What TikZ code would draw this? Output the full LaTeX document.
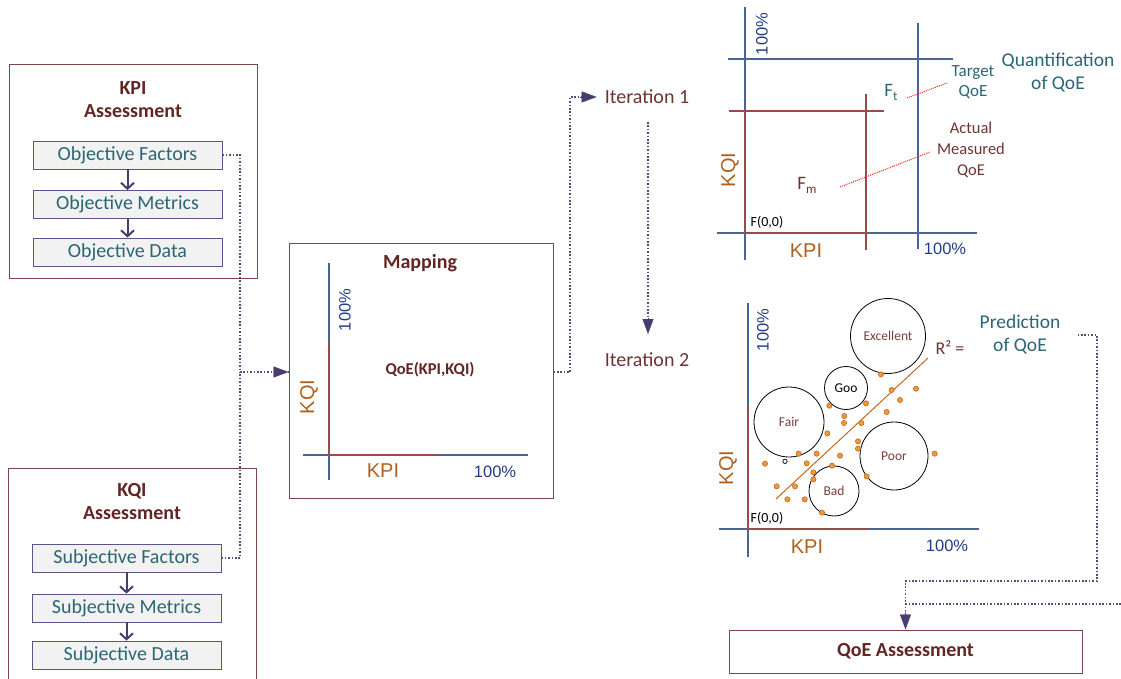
\documentclass[tikz,border=0pt]{standalone}
\usepackage{fontspec}
\setmainfont{Carlito}
\newfontfamily\arialf{Liberation Sans}
\usetikzlibrary{arrows.meta,calc}
\definecolor{boxbrd}{HTML}{7A4848}
\definecolor{titlec}{HTML}{632523}
\definecolor{itc}{HTML}{6E3434}
\definecolor{tealc}{HTML}{2B6675}
\definecolor{inbrd}{HTML}{5E5385}
\definecolor{conn}{HTML}{5B4A80}
\definecolor{arrowc}{HTML}{4A3C6E}
\definecolor{axblue}{HTML}{4A6592}
\definecolor{axred}{HTML}{9A4A48}
\definecolor{bluetxt}{HTML}{203C84}
\definecolor{orangetxt}{HTML}{B0601E}
\definecolor{dotfill}{HTML}{EC9A40}
\definecolor{dotline}{HTML}{C8661A}
\definecolor{grayfill}{HTML}{F2F2F2}
\definecolor{redline}{HTML}{FF2020}
\definecolor{circtxt}{HTML}{7A3E3E}
\begin{document}
\begin{tikzpicture}[x=1pt,y=-1pt,
  outerbox/.style={draw=boxbrd, line width=1pt, inner sep=0pt},
  innerbox/.style={draw=inbrd, fill=grayfill, line width=0.8pt, minimum width=189pt, minimum height=28pt, inner sep=0pt, font=\fontsize{20}{22}\selectfont, text=tealc},
  ttl/.style={font=\fontsize{20}{23}\selectfont\bfseries, text=titlec, align=center},
  flowarr/.style={-{Straight Barb[length=6pt,width=13pt]}, line width=2pt, draw=arrowc},
  dotconn/.style={dash pattern=on 1.6pt off 1.8pt, line width=1.5pt, draw=conn},
  tipped/.style={-{Triangle[length=15pt,width=11pt]}, arrowc},
  axb/.style={draw=axblue, line width=1.2pt},
  axr/.style={draw=axred, line width=1.2pt},
  kpilab/.style={font=\arialf\fontsize{20}{22}\selectfont, text=orangetxt, inner sep=0pt},
  pctlab/.style={font=\arialf\fontsize{16.5}{18}\selectfont, text=bluetxt, inner sep=0pt},
  itlab/.style={font=\fontsize{20}{22}\selectfont, text=itc, inner sep=0pt},
  smalllab/.style={font=\fontsize{14}{16}\selectfont, text=black, inner sep=0pt},
  bubble/.style={circle, draw=black, line width=0.8pt, inner sep=0pt, font=\fontsize{13.5}{15}\selectfont, text=circtxt},
  rdot/.style={densely dotted, line width=1pt, draw=redline},
]
\useasboundingbox (0,0) rectangle (1121,679);

% ---------- KPI assessment ----------
\node[outerbox, minimum width=248pt, minimum height=213pt] (kpibox) at (133,171.5) {};
\node[ttl] (kpititle) at (133,99.5) {KPI\\Assessment};
\node[innerbox] (of) at (127.5,155) {Objective Factors};
\node[innerbox] (om) at (127.5,204.5) {Objective Metrics};
\node[innerbox] (od) at (127.5,252) {Objective Data};
\draw[flowarr] (of.south) -- (om.north);
\draw[flowarr] (om.south) -- (od.north);

% ---------- KQI assessment ----------
\draw[draw=boxbrd, line width=1pt] (8,680) -- (8,468) -- (256,468) -- (256,680);
\node[ttl] (kqititle) at (132,501.5) {KQI\\Assessment};
\node[innerbox] (sf) at (126.5,558) {Subjective Factors};
\node[innerbox] (sm) at (126.5,608) {Subjective Metrics};
\node[innerbox] (sd) at (126.5,655) {Subjective Data};
\draw[flowarr] (sf.south) -- (sm.north);
\draw[flowarr] (sm.south) -- (sd.north);

% ---------- Mapping ----------
\node[outerbox, minimum width=264pt, minimum height=255pt] (map) at (421,370.5) {};
\node[ttl] (maptitle) at (420,263) {Mapping};
\draw[axb] (329,263) -- (329,480);
\draw[axb] (303,455) -- (528,455);
\draw[axr] (329,343) -- (329,455);
\draw[axr] (329,455) -- (438,455);
\node[pctlab, rotate=90] (mapy100) at (345,310) {100\%};
\node[kpilab, rotate=90] (mapkqi) at (309,397) {KQI};
\node[kpilab] (mapkpi) at (383,471) {KPI};
\node[pctlab] (mapx100) at (495,472) {100\%};
\node[font=\fontsize{16.5}{18}\selectfont\bfseries, text=titlec] (qoefn) at (430,370) {QoE(KPI,KQI)};

% ---------- connectors left ----------
\draw[dotconn] (of.east) -| (240,372) coordinate (junc);
\draw[dotconn] (sf.east) -| (junc);
\draw[dotconn] (junc) -- (map.west |- junc);
\draw[tipped] ([xshift=-15pt]map.west |- junc) -- (map.west |- junc);

% ---------- iterations ----------
\node[itlab] (it1) at (647,97) {Iteration 1};
\node[itlab] (it2) at (647,360) {Iteration 2};
\draw[dotconn] (map.east |- 0,372) -- (570,372) -- (570,97) -- ([xshift=-22pt]it1.west);
\draw[tipped] ([xshift=-25pt]it1.west) -- ([xshift=-8pt]it1.west);
\draw[dotconn] (648,122) -- (648,324);
\draw[tipped] (648,318) -- (648,334);

% ---------- top chart ----------
\draw[axb] (745,7) -- (745,260);
\draw[axb] (717,233) -- (977,233);
\draw[axb] (728,59) -- (953,59);
\draw[axb] (918,23) -- (918,249);
\draw[axr] (729,111) -- (884,111);
\draw[axr] (866,94) -- (866,250);
\draw[axr] (745,111) -- (745,233);
\draw[axr] (745,233) -- (866,233);
\node[pctlab, rotate=90] (ty100) at (762,34) {100\%};
\node[kpilab, rotate=90] (tkqi) at (730,170) {KQI};
\node[kpilab] (tkpi) at (806,251) {KPI};
\node[pctlab] (tx100) at (945,249) {100\%};
\node[smalllab] (tf00) at (767,222) {F(0,0)};
\node[font=\fontsize{19}{20}\selectfont, text=tealc, inner sep=0pt] (ft) at (891,92) {F\raisebox{-4pt}{\fontsize{13}{13}\selectfont t}};
\node[font=\fontsize{19}{20}\selectfont, text=itc, inner sep=0pt] (fm) at (807,185) {F\raisebox{-4pt}{\fontsize{13}{13}\selectfont m}};
\node[font=\fontsize{17}{20}\selectfont, text=tealc, align=center, inner sep=0pt] (target) at (973,82) {Target\\QoE};
\node[font=\fontsize{16.5}{21}\selectfont, text=itc, align=center, inner sep=0pt] (actual) at (971,150) {Actual\\Measured\\QoE};
\node[font=\fontsize{19.5}{23}\selectfont, text=tealc, align=center, inner sep=0pt] (quant) at (1058,73) {Quantification\\of QoE};
\coordinate (fta) at (907,98);
\coordinate (ftb) at (947,83);
\coordinate (fma) at (840,187);
\coordinate (fmb) at (930,152);
\draw[rdot] (fta) -- (ftb);
\draw[rdot] (fma) -- (fmb);

% ---------- bottom chart ----------
\draw[axb] (748,303) -- (748,557);
\draw[axb] (719,529) -- (979,529);
\draw[axr] (748,405) -- (748,529);
\draw[axr] (748,529) -- (868,529);
\node[pctlab, rotate=90] (by100) at (763,330) {100\%};
\node[kpilab, rotate=90] (bkqi) at (728,468) {KQI};
\node[kpilab] (bkpi) at (807,547) {KPI};
\node[pctlab] (bx100) at (947,546) {100\%};
\node[smalllab] (bf00) at (767,518) {F(0,0)};
\node[bubble, minimum size=75pt] (exc) at (888,336) {Excellent};
\node[bubble, minimum size=43pt, text=black] (goo) at (846,388) {Goo};
\node[bubble, minimum size=70pt] (fair) at (789,422) {Fair};
\node[bubble, minimum size=68pt] (poor) at (894,456) {Poor};
\node[bubble, minimum size=50pt] (bad) at (834,491) {Bad};
\coordinate (rega) at (776,499);
\coordinate (regb) at (928,358);
\draw[draw=dotline, line width=1pt] (rega) -- (regb);
\foreach \zx/\zy in {543/253,575/300,648/296,600/330,498/340,388/347,433/378,432/399,484/399,560/366,382/430,474/454,474/476,296/491,350/491,420/497,704/491,195/521,320/520,396/527,340/547,340/568,500/559,230/589,285/589,262/628,314/628,366/668}
  \fill[fill=dotfill, draw=dotline, line width=0.6pt] ({700+\zx/3},{290+\zy/3}) circle (2.6pt);
\draw[black, line width=0.7pt] ({700+255/3},{290+514/3}) circle (2.2pt);
\node[font=\fontsize{18}{20}\selectfont, text=itc, inner sep=0pt] (r2) at (950,348) {R² =};
\node[font=\fontsize{19.5}{23}\selectfont, text=tealc, align=center, inner sep=0pt] (pred) at (1020,335) {Prediction\\of QoE};

% ---------- QoE assessment ----------
\node[outerbox, minimum width=353pt, minimum height=43pt, font=\fontsize{20}{22}\selectfont\bfseries, text=titlec] (qoe) at (905.5,651.5) {QoE Assessment};
\coordinate (rightedge) at (1121,604);
\draw[dotconn] ([xshift=17pt]pred.east) -| (1097,581) -| ([yshift=10pt]qoe.north);
\draw[dotconn] (rightedge) -- (qoe.north |- rightedge);
\draw[tipped] ([yshift=17pt]qoe.north) -- (qoe.north);
\end{tikzpicture}
\end{document}
